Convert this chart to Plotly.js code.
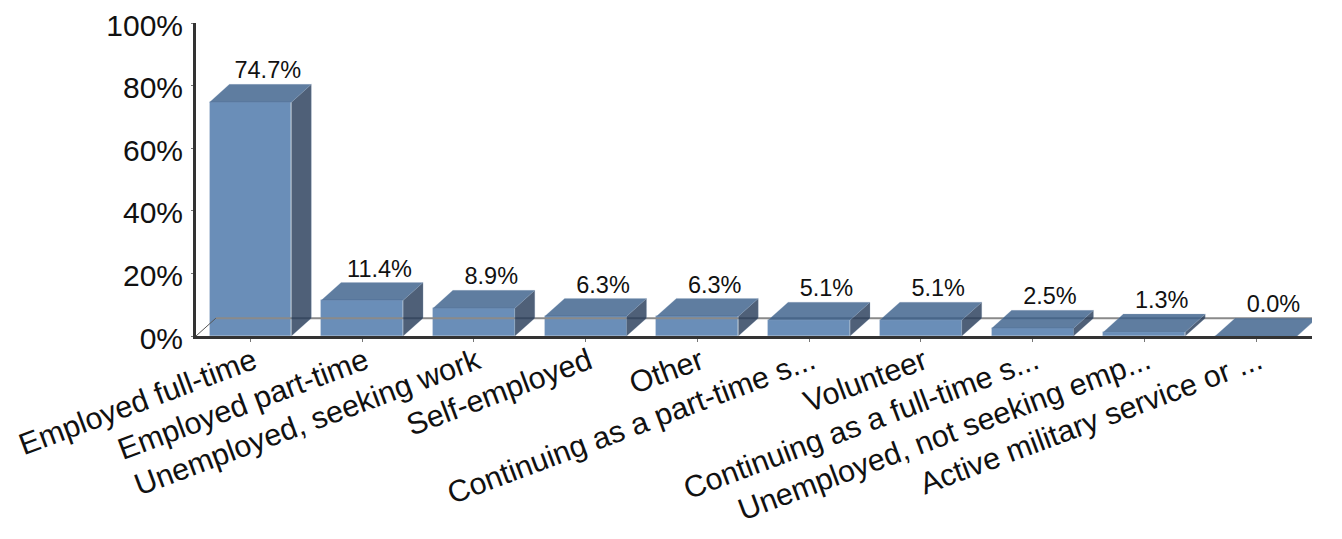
<!DOCTYPE html>
<html>
<head>
<meta charset="utf-8">
<script src="https://cdn.plot.ly/plotly-3.0.1.min.js"></script>
<style>html,body{margin:0;padding:0;background:#fff}#chart{width:1342px;height:539px}</style>
</head>
<body>
<div id="chart"></div>
<script>
const categories = [
  "Employed full-time", "Employed part-time", "Unemployed, seeking work",
  "Self-employed", "Other", "Continuing as a part-time s...", "Volunteer",
  "Continuing as a full-time s...", "Unemployed, not seeking emp...",
  "Active military service or ..."
];
const percentValues = [74.7, 11.4, 8.9, 6.3, 6.3, 5.1, 5.1, 2.5, 1.3, 0.0];
const percentTicks = [0, 20, 40, 60, 80, 100];

const FONT = '"Liberation Sans", Arial, sans-serif';
const BAR_WIDTH = 0.733;
const DEPTH_X = 0.178;   // oblique depth in category units
const DEPTH_Y = 5.7;     // oblique depth in percent units
const LABEL_DX = 0.155;
const X_MIN = -0.4875, X_MAX = 9.5;
const idx = categories.map((_, i) => i);
const half = BAR_WIDTH / 2;

function faces(build) {
  const xs = [], ys = [];
  percentValues.forEach((v, i) => {
    build(i, v).forEach(p => { xs.push(p[0]); ys.push(p[1]); });
    xs.push(null); ys.push(null);
  });
  return {xs, ys};
}
const side = faces((i, v) => [
  [i + half, 0], [i + half + DEPTH_X, DEPTH_Y], [i + half + DEPTH_X, v + DEPTH_Y], [i + half, v], [i + half, 0]
]);
const top3d = faces((i, v) => [
  [i - half, v], [i - half + DEPTH_X, v + DEPTH_Y], [i + half + DEPTH_X, v + DEPTH_Y], [i + half, v], [i - half, v]
]);

function poly(f, fill) {
  return {x: f.xs, y: f.ys, type: 'scatter', mode: 'lines', fill: 'toself', fillcolor: fill,
    line: {color: 'rgba(150,172,196,0.4)', width: 0.6}, hoverinfo: 'skip', showlegend: false, cliponaxis: false};
}

const traces = [
  {x: [X_MIN, X_MIN + DEPTH_X], y: [0, DEPTH_Y], type: 'scatter', mode: 'lines',
   line: {color: '#555', width: 1}, hoverinfo: 'skip', showlegend: false, cliponaxis: false},
  {x: [X_MIN + DEPTH_X, X_MAX + DEPTH_X], y: [DEPTH_Y, DEPTH_Y], type: 'scatter', mode: 'lines',
   line: {color: '#8a8a8a', width: 2}, hoverinfo: 'skip', showlegend: false, cliponaxis: false},
  poly(side, 'rgba(35,56,86,0.8)'),
  poly(top3d, 'rgba(55,92,136,0.8)'),
  {x: idx, y: percentValues, type: 'bar', width: BAR_WIDTH,
   marker: {color: 'rgba(69,114,166,0.8)', line: {color: 'rgba(150,172,196,0.4)', width: 0.6}},
   hoverinfo: 'skip', showlegend: false, cliponaxis: false},
  {x: idx.map(i => i + LABEL_DX), y: percentValues.map(v => v + DEPTH_Y),
   text: percentValues.map(v => v.toFixed(1) + '%'), type: 'scatter', mode: 'text',
   textposition: 'top center', textfont: {family: FONT, size: 23.5, color: '#111'},
   hoverinfo: 'skip', showlegend: false, cliponaxis: false}
];

const layout = {
  width: 1342, height: 539,
  margin: {l: 195.5, r: 30, t: 23, b: 202.5, pad: 0},
  paper_bgcolor: '#fff', plot_bgcolor: '#fff',
  showlegend: false,
  xaxis: {
    type: 'linear', range: [X_MIN, X_MAX], tickmode: 'array', tickvals: idx, ticktext: categories,
    tickangle: -20.5, tickfont: {family: FONT, size: 30.5, color: '#111'},
    showgrid: false, zeroline: false, showline: true, linewidth: 3, linecolor: '#333',
    ticks: 'outside', ticklen: 3, tickwidth: 1, tickcolor: '#777',
    ticklabelstandoff: -10, ticklabelshift: 3
  },
  yaxis: {
    range: [0, 100], tickmode: 'array', tickvals: percentTicks,
    ticktext: percentTicks.map(t => t + '%'),
    tickfont: {family: FONT, size: 30, color: '#111'},
    showgrid: false, zeroline: false, showline: true, linewidth: 3, linecolor: '#333',
    ticks: 'outside', ticklen: 2, tickwidth: 1, tickcolor: '#777', ticklabelstandoff: 2, ticklabelshift: 2
  },
  bargap: 0
};
Plotly.newPlot('chart', traces, layout, {displayModeBar: false, responsive: false});
</script>
</body>
</html>
